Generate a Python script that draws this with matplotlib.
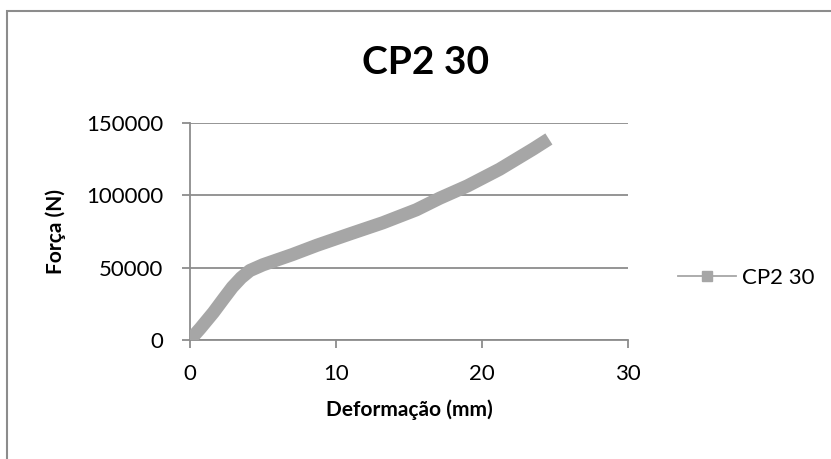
import matplotlib.pyplot as plt
from matplotlib.lines import Line2D
from matplotlib.patches import Rectangle

# --- dados ---
deformacao = [0, 0.7, 1.6, 2.3, 2.9, 3.5, 4.1, 5.0, 6.0, 7.0, 8.7, 11.0, 13.2,
              15.5, 17.1, 19.0, 21.2, 23.5, 24.2]
forca = [0, 8000, 19000, 28500, 36500, 43000, 48000, 52000, 55500, 59000, 65500,
         73500, 81000, 90000, 98000, 106500, 118000, 132000, 136500]
serie = "CP2 30"
x_ticks = [0, 10, 20, 30]
y_ticks = [0, 50000, 100000, 150000]

plt.rcParams['font.family'] = ['Lato', 'DejaVu Sans']
cinza = '#a6a6a6'
grade = '#8c8c8c'

fig = plt.figure(figsize=(8.31, 4.59), dpi=100)
ax = fig.add_axes([190 / 831, 1 - 340 / 459, 438 / 831, 217 / 459])

# a série original tem marcadores muito densos: fica uma faixa grossa
ax.plot(deformacao, forca, color=cinza, lw=9.5, solid_capstyle='projecting',
        solid_joinstyle='round', zorder=3)

ax.set_xlim(0, 30)
ax.set_ylim(0, 150000)
ax.set_xticks(x_ticks)
ax.set_yticks(y_ticks)
ax.yaxis.grid(True, color=grade, lw=1.3)
ax.set_axisbelow(True)
for s in ['top', 'right']:
    ax.spines[s].set_visible(False)
for s in ['left', 'bottom']:
    ax.spines[s].set_color(grade)
    ax.spines[s].set_linewidth(1.3)
ax.tick_params(axis='y', length=6, width=1.3, color=grade, pad=13, labelsize=16)
ax.tick_params(axis='x', length=6, width=1.3, color=grade, pad=11, labelsize=16)

ax.set_xlabel("Deformação (mm)", fontsize=15, fontweight='bold')
ax.set_ylabel("Força (N)", fontsize=15, fontweight='bold')
ax.xaxis.set_label_coords(0.5, -0.275)
ax.yaxis.set_label_coords(-0.283, 0.5)

fig.text(426 / 831, 1 - 63 / 459, serie, fontsize=28, fontweight='bold',
         ha='center', va='center')

handle = Line2D([], [], color=cinza, lw=1.3, marker='s', ms=7, mfc=cinza, mec=cinza)
ax.legend([handle], [serie], loc='center left', frameon=False,
          bbox_to_anchor=(678 / 831, 1 - 278 / 459), bbox_transform=fig.transFigure,
          handlelength=2.6, handletextpad=0.3, borderpad=0, borderaxespad=0,
          fontsize=16)

# moldura da área do gráfico
fig.add_artist(Rectangle((7 / 831, -0.1), 1.2, 1.1 - 11 / 459,
                         transform=fig.transFigure, fill=False, ec='#8c8c8c',
                         lw=1.5, clip_on=False))

fig.savefig("out.png", dpi=100)
